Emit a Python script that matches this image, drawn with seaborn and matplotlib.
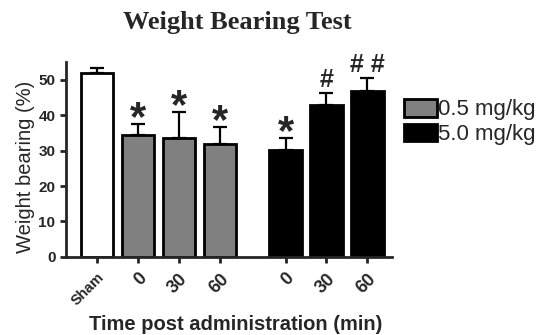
import numpy as np
import pandas as pd
import matplotlib
matplotlib.use("Agg")
import matplotlib.pyplot as plt
import seaborn as sns
from matplotlib.patches import Patch

# values
groups = ['Sham', '0.5 mg/kg', '0.5 mg/kg', '0.5 mg/kg', '5.0 mg/kg', '5.0 mg/kg', '5.0 mg/kg']
tick_labels = ['Sham', '0', '30', '60', '0', '30', '60']
means = [52.0, 34.3, 33.5, 31.9, 30.3, 42.8, 46.7]
sems = [1.4, 3.3, 7.5, 4.8, 3.3, 3.4, 3.7]
marks = ['', '*', '*', '*', '*', '#', '# #']
positions = [0, 1, 2, 3, 4.6, 5.6, 6.6]

colors = {'Sham': 'white', '0.5 mg/kg': '#808080', '5.0 mg/kg': 'black'}

data = pd.DataFrame({'pos': positions, 'mean': means, 'sem': sems, 'group': groups})

sns.set_style('ticks')
plt.rcParams['font.family'] = ['Liberation Sans', 'DejaVu Sans']

fig = plt.figure(figsize=(5.4, 3.35), dpi=100)
ax = fig.add_axes([0.122, 0.233, 0.604, 0.582])

sns.barplot(data=data, x='pos', y='mean', hue='group', palette=colors,
            native_scale=True, dodge=False, width=0.8, errorbar=None,
            edgecolor='black', linewidth=2, legend=False, ax=ax)

# upper error bars only
ax.errorbar(data['pos'], data['mean'], yerr=[np.zeros(len(sems)), data['sem']],
            fmt='none', ecolor='black', elinewidth=1.6, capsize=5, capthick=1.6, zorder=1)

for x, m, s, t in zip(positions, means, sems, marks):
    if t == '*':
        ax.annotate(t, xy=(x, m + s), xytext=(0, -4.5), textcoords='offset points',
                    ha='center', va='baseline', fontsize=30, fontweight='bold')
    elif t:
        ax.annotate(t, xy=(x, m + s), xytext=(0, 4.5), textcoords='offset points',
                    ha='center', va='baseline', fontsize=18, fontweight='bold')

ax.set_xlim(-0.76, 7.2)
ax.set_ylim(0, 55)
ax.set_yticks([0, 10, 20, 30, 40, 50])
ax.set_xticks(positions)
ax.set_xticklabels(tick_labels)
for lab in ax.get_xticklabels():
    lab.set_rotation(45)
    lab.set_ha('right')
    lab.set_rotation_mode('anchor')
    lab.set_fontweight('bold')
    lab.set_fontsize(10.5 if lab.get_text() == 'Sham' else 13)
for lab in ax.get_yticklabels():
    lab.set_fontweight('bold')
    lab.set_fontsize(11)

sns.despine(ax=ax)
for sp in ['left', 'bottom']:
    ax.spines[sp].set_linewidth(2)
ax.tick_params(axis='both', width=2, length=4.5, direction='out', pad=3)
ax.tick_params(axis='x', pad=5)

ax.set_ylabel('Weight bearing (%)', fontsize=14.5)
ax.yaxis.set_label_coords(-0.095, 0.46)
ax.set_xlabel('Time post administration (min)', fontsize=14.5, fontweight='bold')
ax.xaxis.set_label_coords(0.52, -0.30)

fig.text(237 / 540, 1 - 23 / 335, 'Weight Bearing Test', ha='center', va='center',
         fontsize=19, fontweight='bold', family=['Liberation Serif', 'DejaVu Serif'])

handles = [Patch(facecolor=colors['0.5 mg/kg'], edgecolor='black', linewidth=2),
           Patch(facecolor=colors['5.0 mg/kg'], edgecolor='black', linewidth=2)]
fig.legend(handles, ['0.5 mg/kg', '5.0 mg/kg'], loc='upper left',
           bbox_to_anchor=(0.748, 0.705), frameon=False, fontsize=16,
           handlelength=1.5, handleheight=0.85, handletextpad=0.05, labelspacing=0.15,
           borderaxespad=0, borderpad=0)

fig.savefig('out.png', dpi=100)
